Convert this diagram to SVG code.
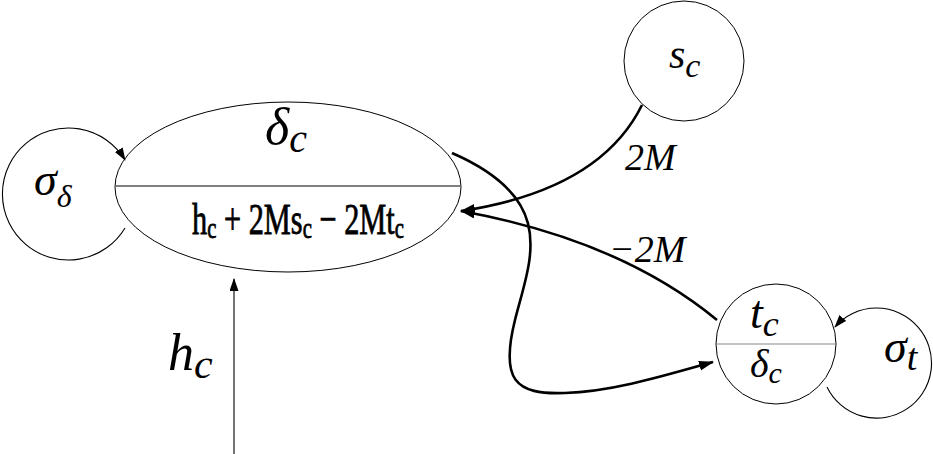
<svg xmlns="http://www.w3.org/2000/svg" width="933" height="454" viewBox="0 0 933 454">
<defs>
<marker id="ah" markerUnits="userSpaceOnUse" markerWidth="16" markerHeight="12" refX="14" refY="5" orient="auto"><path d="M0,0 L15,5 L0,10 z" fill="#000"/></marker>
<marker id="as" markerUnits="userSpaceOnUse" markerWidth="14" markerHeight="10" refX="12" refY="4.5" orient="auto"><path d="M0,0 L13,4.5 L0,9 z" fill="#000"/></marker>
<style>
.node{fill:none;stroke:#000;stroke-width:1}
.thin{fill:none;stroke:#000;stroke-width:1.1}
.thick{fill:none;stroke:#000;stroke-width:2.6}
</style>
</defs>
<g font-family="'Liberation Serif', serif" fill="#000">
<g id="delta_c">
<ellipse class="node" cx="288" cy="187" rx="173" ry="85"/>
<line x1="116" y1="186" x2="460" y2="186" stroke="#000" stroke-width="1"/>
<text x="265" y="144" font-size="52" font-style="italic">δ<tspan font-size="40" dy="8">c</tspan></text>
<g transform="translate(192,234) scale(0.69,1)">
<text x="0" y="0" font-size="44" stroke="#000" stroke-width="0.8">h<tspan font-size="30" dy="4">c</tspan><tspan dy="-4"> + 2Ms</tspan><tspan font-size="30" dy="4">c</tspan><tspan dy="-4"> − 2Mt</tspan><tspan font-size="30" dy="4">c</tspan></text>
</g>
</g>
<g id="sigma_delta">
<text x="34" y="195" font-size="46" font-style="italic">σ<tspan font-size="32" dy="12">δ</tspan></text>
</g>
<g id="s_c">
<circle class="node" cx="684" cy="61" r="60"/>
<text x="669" y="68" font-size="42" font-style="italic">s<tspan font-size="34" dy="9">c</tspan></text>
</g>
<g id="t_c">
<circle class="node" cx="776" cy="344" r="60"/>
<line x1="717" y1="344" x2="835" y2="344" stroke="#888" stroke-width="1.2"/>
<text x="750" y="328" font-size="46" font-style="italic">t<tspan font-size="36" dy="8">c</tspan></text>
<text x="750" y="377" font-size="40" font-style="italic">δ<tspan font-size="30" dy="6">c</tspan></text>
</g>
<g id="sigma_t">
<text x="884" y="362" font-size="46" font-style="italic">σ<tspan font-size="38" dy="8">t</tspan></text>
</g>
<g id="h_c">
<text x="168" y="370" font-size="52" font-style="italic">h<tspan font-size="42" dy="8">c</tspan></text>
</g>
<g id="connectors">
<path class="thin" d="M125,228 A66,66 0 1 1 125,160" marker-end="url(#as)"/>
<path class="thin" d="M827,387 A55,55 0 1 0 835,327" marker-end="url(#as)"/>
<line class="thin" x1="234" y1="454" x2="234" y2="279" marker-end="url(#as)"/>
<path class="thick" d="M642,105 Q600,190 461,211" marker-end="url(#ah)"/>
<path class="thick" d="M717,320 Q620,240 461,211" marker-end="url(#ah)"/>
<path class="thick" d="M452,153 C560,200 530,260 515,320 C500,380 515,395 565,393 C610,392 660,377 713,362" marker-end="url(#ah)"/>
<text x="625" y="170" font-size="38" font-style="italic">2M</text>
<text x="609" y="262" font-size="38" font-style="italic">−2M</text>
</g>
</g>
</svg>
